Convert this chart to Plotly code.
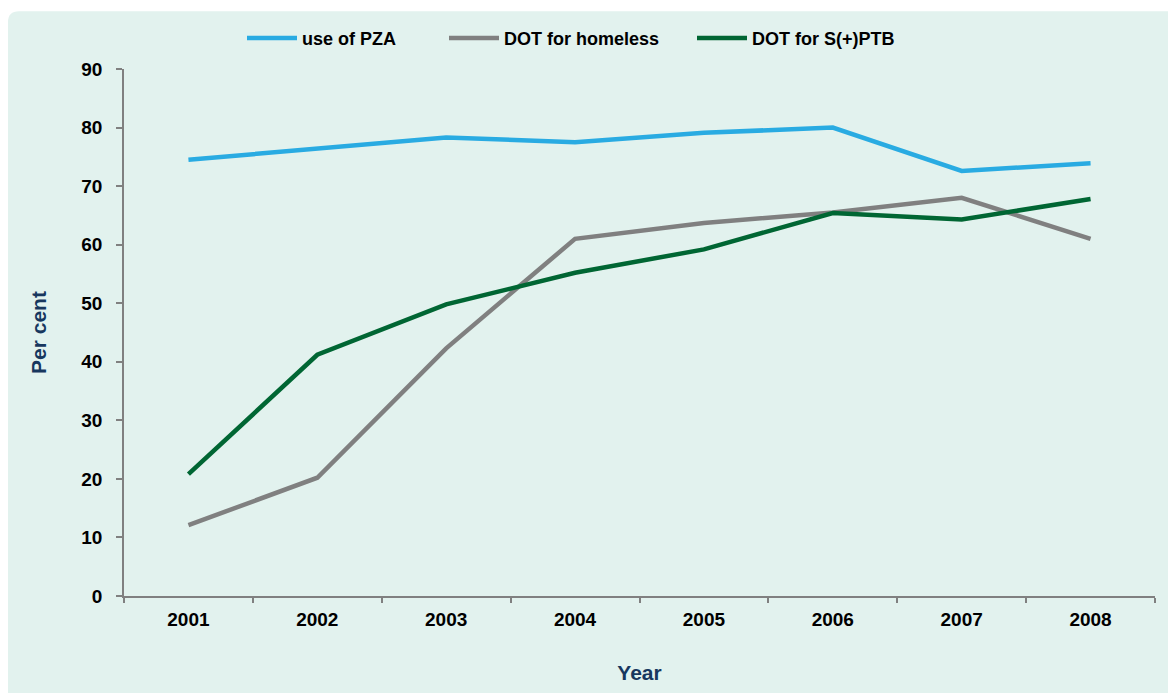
import plotly.graph_objects as go

years = ["2001", "2002", "2003", "2004", "2005", "2006", "2007", "2008"]
use_pza = [74.5, 76.4, 78.3, 77.5, 79.1, 80.0, 72.6, 73.9]
dot_homeless = [12.1, 20.2, 42.3, 61.0, 63.7, 65.5, 68.0, 61.0]
dot_sptb = [20.8, 41.2, 49.8, 55.2, 59.2, 65.4, 64.3, 67.8]

series_names = ["use of PZA", "DOT for homeless", "DOT for S(+)PTB"]
series_colors = ["#29abe2", "#808080", "#006633"]
legend_ids = ["legend", "legend2", "legend3"]
legend_text_px = [292, 494, 742]   # figure-pixel left of each legend label

# page body has an 8px margin, so figure is 8px smaller than the window
W, H = 1168, 685
ML, MR, MT, MB = 116, 21, 58, 97
PW, PH = W - ML - MR, H - MT - MB


def px(x):
    return (x - ML) / PW


def py(y):
    return (H - MB - y) / PH


fig = go.Figure()
for name, vals, col, lg in zip(series_names, [use_pza, dot_homeless, dot_sptb],
                               series_colors, legend_ids):
    fig.add_trace(go.Scatter(x=years, y=vals, name=name, mode="lines", legend=lg,
                             line=dict(color=col, width=4.5)))

r = 11
panel = (f"M {px(0)},{py(700)} L {px(0)},{py(r)} Q {px(0)},{py(0)} {px(r)},{py(0)} "
         f"L {px(1200)},{py(0)} L {px(1200)},{py(700)} Z")

ITEMW = 50
legend_common = dict(orientation="h", yanchor="middle", y=py(27), xanchor="left",
                     font=dict(size=18, color="black", weight="bold"),
                     bgcolor="rgba(0,0,0,0)", borderwidth=0, itemwidth=ITEMW)

layout_legends = {}
for lg, tx in zip(legend_ids, legend_text_px):
    layout_legends[lg] = dict(legend_common, x=px(tx - ITEMW - 8))

fig.update_layout(
    width=W, height=H,
    margin=dict(l=ML, r=MR, t=MT, b=MB),
    paper_bgcolor="white",
    plot_bgcolor="rgba(0,0,0,0)",
    font=dict(family="Liberation Sans, Arial, sans-serif", color="black"),
    shapes=[dict(type="path", xref="paper", yref="paper", path=panel,
                 fillcolor="#e2f2ee", line=dict(width=0), layer="below")],
    showlegend=True,
    **layout_legends,
)

fig.update_xaxes(
    type="category", range=[-0.5, 7.5], tickson="boundaries",
    ticks="outside", ticklen=5, tickcolor="#808080", tickwidth=1.5,
    showline=True, linecolor="#808080", linewidth=1.5, showgrid=False, zeroline=False,
    tickfont=dict(size=19, color="black", weight="bold"),
    ticklabelstandoff=5,
    title=dict(text="Year", font=dict(size=21, color="#17375e", weight="bold"), standoff=37),
)
fig.update_yaxes(
    range=[0, 90], dtick=10, tick0=0,
    ticks="outside", ticklen=6, tickcolor="#808080", tickwidth=1.5,
    showline=True, linecolor="#808080", linewidth=1.5, showgrid=False, zeroline=False,
    tickfont=dict(size=19, color="black", weight="bold"),
    ticklabelstandoff=10,
    title=dict(text="Per cent", font=dict(size=21, color="#17375e", weight="bold"), standoff=29),
)

fig.write_html("out.html")
